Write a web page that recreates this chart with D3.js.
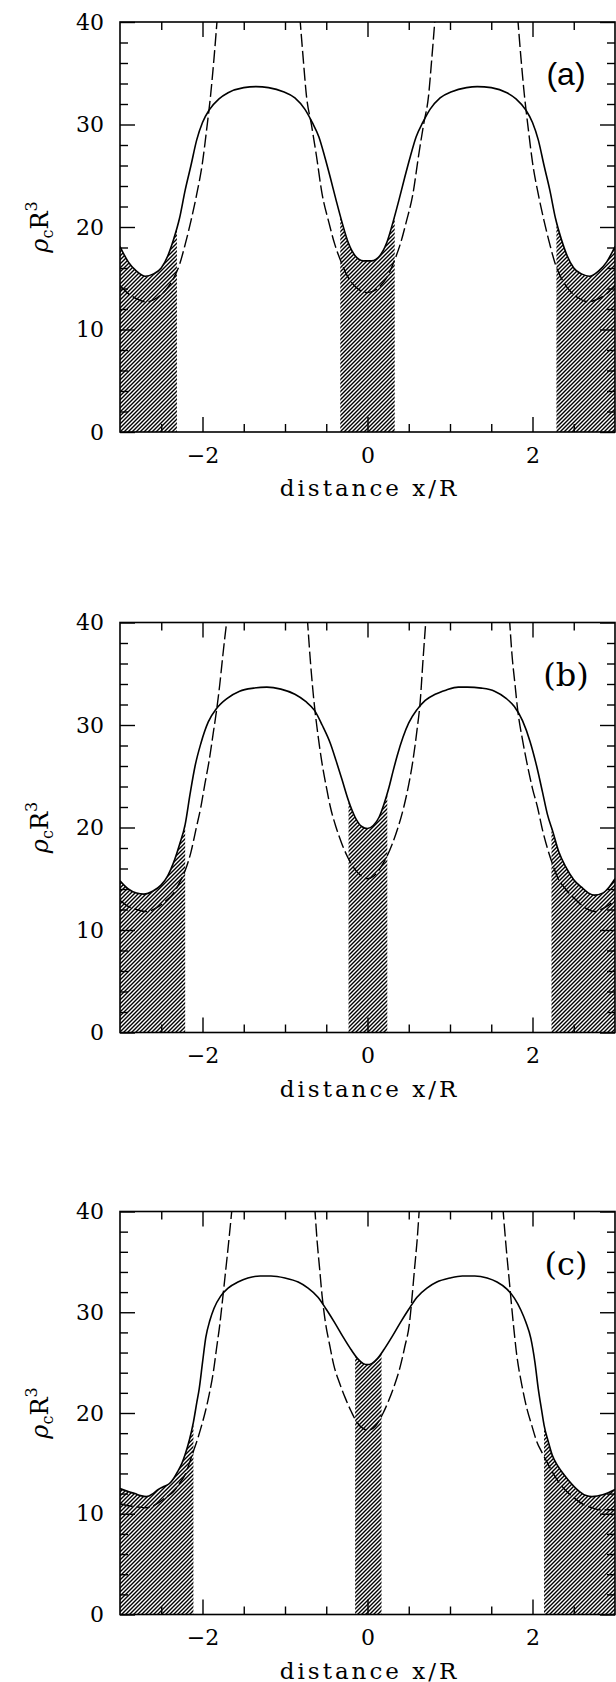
<!DOCTYPE html>
<html>
<head>
<meta charset="utf-8">
<script src="https://cdn.jsdelivr.net/npm/d3@7"></script>
<style>
  body { margin: 0; background: #fff; }
  svg { display: block; }
</style>
</head>
<body>
<div id="chart"></div>
<script>
// values (x = distance x/R, y = rho_c R^3)
const panelLabels = ["(a)", "(b)", "(c)"];
const xMajorTicks = [-2, 0, 2];
const yMajorTicks = [0, 10, 20, 30, 40];

const solidA = [[-3,18.1],[-2.9,16.6],[-2.8,15.7],[-2.69,15.2],[-2.6,15.4],[-2.5,16.0],[-2.42,17.2],[-2.35,18.8],[-2.28,20.8],[-2.21,23.6],[-2.14,26.0],[-2.07,28.5],[-2.0,30.2],[-1.92,31.4],[-1.8,32.5],[-1.69,33.1],[-1.5,33.6],[-1.35,33.7],[-1.2,33.6],[-1.02,33.2],[-0.88,32.6],[-0.76,31.5],[-0.67,30.2],[-0.59,28.8],[-0.52,26.9],[-0.45,24.8],[-0.38,22.6],[-0.31,20.5],[-0.23,18.4],[-0.15,17.2],[-0.05,16.7],[0.05,16.7],[0.15,17.2],[0.23,18.4],[0.31,20.5],[0.38,22.6],[0.45,24.8],[0.52,26.9],[0.59,28.8],[0.67,30.2],[0.76,31.5],[0.88,32.6],[1.02,33.2],[1.2,33.6],[1.33,33.7],[1.5,33.6],[1.69,33.1],[1.8,32.5],[1.92,31.4],[2.0,30.2],[2.07,28.5],[2.14,26.0],[2.21,23.6],[2.28,20.8],[2.35,18.8],[2.42,17.2],[2.5,16.0],[2.6,15.4],[2.69,15.2],[2.8,15.7],[2.9,16.6],[3,18.1]];
const dashA = [
  [[-3,14.3],[-2.9,13.5],[-2.8,13.0],[-2.68,12.7],[-2.55,13.1],[-2.45,13.8],[-2.35,15.0],[-2.28,16.3],[-2.21,18.3],[-2.14,20.6],[-2.07,23.2],[-2.0,26.3],[-1.95,29.5],[-1.9,33.0],[-1.86,36.5],[-1.82,40.5]],
  [[-0.82,40.5],[-0.78,36.5],[-0.74,32.8],[-0.68,30.0],[-0.62,27.0],[-0.55,23.2],[-0.47,20.5],[-0.4,18.4],[-0.33,16.8],[-0.25,15.3],[-0.15,14.2],[0,13.6],[0.15,14.2],[0.25,15.3],[0.33,16.8],[0.4,18.4],[0.47,20.5],[0.55,23.2],[0.62,27.0],[0.68,30.0],[0.74,32.8],[0.78,36.5],[0.82,40.5]],
  [[1.82,40.5],[1.86,36.5],[1.9,33.0],[1.95,29.5],[2.0,26.3],[2.07,23.2],[2.14,20.6],[2.21,18.3],[2.28,16.3],[2.35,15.0],[2.45,13.8],[2.55,13.1],[2.68,12.7],[2.8,13.0],[2.9,13.5],[3,14.3]]
];
const bandsA = [[-3,-2.31],[-0.33,0.33],[2.29,3]];

const solidB = [[-3,14.8],[-2.9,14.0],[-2.8,13.6],[-2.71,13.5],[-2.6,13.8],[-2.5,14.4],[-2.42,15.3],[-2.35,16.6],[-2.28,18.3],[-2.21,20.3],[-2.15,23.3],[-2.09,26.0],[-2.02,28.2],[-1.93,30.3],[-1.83,31.6],[-1.7,32.6],[-1.55,33.3],[-1.38,33.6],[-1.22,33.7],[-1.05,33.5],[-0.88,33.0],[-0.75,32.3],[-0.64,31.4],[-0.55,30.0],[-0.45,28.2],[-0.38,26.5],[-0.31,24.7],[-0.23,22.6],[-0.15,21.0],[-0.07,20.1],[0,19.9],[0.07,20.2],[0.14,21.0],[0.2,22.3],[0.26,23.9],[0.31,25.5],[0.36,27.0],[0.43,28.8],[0.5,30.2],[0.6,31.5],[0.7,32.4],[0.82,33.0],[0.95,33.4],[1.1,33.7],[1.21,33.7],[1.38,33.6],[1.54,33.3],[1.68,32.6],[1.78,31.8],[1.88,30.4],[1.97,28.4],[2.05,26.0],[2.12,23.5],[2.18,21.3],[2.25,19.5],[2.32,17.6],[2.4,16.2],[2.5,14.9],[2.59,14.2],[2.68,13.6],[2.75,13.4],[2.85,13.6],[2.93,14.2],[3,15.0]];
const dashB = [
  [[-3,12.9],[-2.9,12.3],[-2.8,12.0],[-2.68,11.8],[-2.55,12.2],[-2.45,12.8],[-2.35,13.6],[-2.28,14.6],[-2.21,15.8],[-2.14,17.6],[-2.08,19.8],[-2.02,22.0],[-1.97,24.3],[-1.92,26.5],[-1.87,29.2],[-1.83,31.4],[-1.79,34.0],[-1.76,36.3],[-1.73,38.5],[-1.7,40.5]],
  [[-0.73,40.5],[-0.69,36.0],[-0.65,32.4],[-0.6,29.0],[-0.55,26.2],[-0.5,24.0],[-0.45,22.0],[-0.38,20.0],[-0.31,18.4],[-0.24,17.1],[-0.17,16.1],[-0.08,15.3],[0,15.0],[0.08,15.3],[0.16,16.1],[0.23,17.1],[0.3,18.4],[0.37,20.0],[0.44,22.0],[0.5,24.2],[0.55,26.5],[0.6,29.5],[0.64,32.4],[0.67,36.0],[0.71,40.5]],
  [[1.72,40.5],[1.75,37.0],[1.79,33.8],[1.82,31.5],[1.88,28.5],[1.94,26.0],[2.0,23.8],[2.06,22.0],[2.12,19.8],[2.18,18.0],[2.24,16.5],[2.3,15.2],[2.4,14.0],[2.53,12.9],[2.65,12.1],[2.75,11.8],[2.88,12.2],[3,12.9]]
];
const bandsB = [[-3,-2.21],[-0.23,0.24],[2.23,3]];

const solidC = [[-3,12.5],[-2.9,12.2],[-2.82,12.0],[-2.75,11.8],[-2.68,11.7],[-2.6,12.0],[-2.54,12.4],[-2.47,12.7],[-2.4,13.0],[-2.35,13.5],[-2.3,14.2],[-2.25,15.0],[-2.21,15.9],[-2.16,17.3],[-2.11,19.1],[-2.07,21.0],[-2.04,22.4],[-2.0,25.0],[-1.96,27.5],[-1.91,29.2],[-1.86,30.4],[-1.78,31.6],[-1.69,32.4],[-1.57,33.0],[-1.45,33.4],[-1.3,33.6],[-1.17,33.6],[-1.0,33.4],[-0.84,33.0],[-0.72,32.4],[-0.6,31.5],[-0.5,30.3],[-0.4,29.0],[-0.3,27.6],[-0.2,26.3],[-0.12,25.4],[-0.05,24.9],[0,24.8],[0.05,24.9],[0.12,25.4],[0.2,26.3],[0.3,27.6],[0.4,29.0],[0.5,30.3],[0.6,31.5],[0.72,32.4],[0.84,33.0],[1.0,33.4],[1.15,33.6],[1.3,33.6],[1.45,33.4],[1.57,33.0],[1.69,32.3],[1.78,31.4],[1.86,30.2],[1.92,29.0],[1.98,27.4],[2.03,25.0],[2.07,22.4],[2.11,20.3],[2.14,18.8],[2.19,17.2],[2.24,15.8],[2.31,14.7],[2.38,13.9],[2.47,13.0],[2.57,12.2],[2.65,11.8],[2.72,11.7],[2.86,11.9],[3,12.4]];
const dashC = [
  [[-3,11.0],[-2.9,10.8],[-2.8,10.7],[-2.68,10.6],[-2.55,11.0],[-2.45,11.6],[-2.35,12.2],[-2.28,13.0],[-2.21,13.9],[-2.16,15.0],[-2.11,16.2],[-2.06,17.4],[-2.02,18.5],[-1.97,20.0],[-1.92,21.8],[-1.87,24.0],[-1.83,26.4],[-1.79,28.8],[-1.76,31.0],[-1.73,33.3],[-1.7,35.6],[-1.67,38.0],[-1.64,40.5]],
  [[-0.64,40.5],[-0.61,37.0],[-0.58,34.3],[-0.55,31.6],[-0.51,29.0],[-0.46,26.8],[-0.41,24.8],[-0.34,23.0],[-0.27,21.5],[-0.2,20.2],[-0.13,19.1],[-0.06,18.5],[0,18.3],[0.07,18.5],[0.13,19.1],[0.19,20.0],[0.25,21.1],[0.32,22.6],[0.39,24.4],[0.45,26.5],[0.51,29.0],[0.54,31.5],[0.57,34.3],[0.6,37.0],[0.63,40.5]],
  [[1.64,40.5],[1.68,36.5],[1.72,33.0],[1.76,29.5],[1.81,25.7],[1.87,22.8],[1.93,20.5],[1.99,18.8],[2.05,17.2],[2.12,16.0],[2.19,14.9],[2.28,13.6],[2.38,12.5],[2.5,11.6],[2.62,10.9],[2.72,10.6],[2.81,10.4],[2.9,10.4],[3,10.4]]
];
const bandsC = [[-3,-2.11],[-0.15,0.17],[2.14,3]];

const solids = [solidA, solidB, solidC];
const dashes = [dashA, dashB, dashC];
const bands = [bandsA, bandsB, bandsC];

// layout
const size = { width: 616, height: 1682, left: 120, right: 615 };
const panelTops = [22, 622.5, 1211.5];
const panelHeights = [410, 410, 403];
const serif = "'DejaVu Serif', serif";
const labelFonts = ["'Liberation Sans', Arial, sans-serif", serif, serif];

const svg = d3.select("#chart").append("svg")
  .attr("width", size.width)
  .attr("height", size.height);
svg.append("rect").attr("width", size.width).attr("height", size.height).attr("fill", "#fff");

const defs = svg.append("defs");
const hatch = defs.append("pattern")
  .attr("id", "hatch")
  .attr("patternUnits", "userSpaceOnUse")
  .attr("width", 4).attr("height", 4);
hatch.append("path")
  .attr("d", "M-1,1 l2,-2 M0,4 l4,-4 M3,5 l2,-2")
  .attr("stroke", "#000")
  .attr("stroke-width", 1.4);

function styleAxis(g) {
  g.select(".domain").remove();
  g.selectAll(".tick line").attr("stroke", "#000").attr("stroke-width", 1.4);
  g.attr("font-family", serif).attr("font-size", 22);
  g.selectAll(".tick text").attr("fill", "#000");
}

function drawPanel(i) {
  const top = panelTops[i];
  const h = panelHeights[i];
  const bottom = top + h;
  const x = d3.scaleLinear().domain([-3, 3]).range([size.left, size.right]);
  const y = d3.scaleLinear().domain([0, 40]).range([bottom, top]);
  const g = svg.append("g");

  defs.append("clipPath").attr("id", "plot" + i)
    .append("rect")
    .attr("x", size.left).attr("y", top)
    .attr("width", size.right - size.left).attr("height", h);

  defs.append("clipPath").attr("id", "band" + i)
    .selectAll("rect")
    .data(bands[i])
    .join("rect")
    .attr("x", d => x(d[0]))
    .attr("width", d => x(d[1]) - x(d[0]))
    .attr("y", top)
    .attr("height", h);

  const area = d3.area()
    .x(d => x(d[0])).y0(y(0)).y1(d => y(d[1]))
    .curve(d3.curveMonotoneX);
  const line = d3.line()
    .x(d => x(d[0])).y(d => y(d[1]))
    .curve(d3.curveMonotoneX);

  // shaded bands under the solid curve
  g.append("path")
    .datum(solids[i])
    .attr("d", area)
    .attr("fill", "url(#hatch)")
    .attr("clip-path", `url(#band${i})`);

  g.append("g")
    .attr("clip-path", `url(#plot${i})`)
    .selectAll("path")
    .data(dashes[i])
    .join("path")
    .attr("d", line)
    .attr("fill", "none")
    .attr("stroke", "#000")
    .attr("stroke-width", 1.4)
    .attr("stroke-dasharray", "13,4");

  g.append("path")
    .datum(solids[i])
    .attr("d", line)
    .attr("fill", "none")
    .attr("stroke", "#000")
    .attr("stroke-width", 1.6)
    .attr("clip-path", `url(#plot${i})`);

  const xMinor = d3.range(-2.5, 3, 0.5).filter(v => !xMajorTicks.includes(v));
  const yMinor = d3.range(2, 40, 2).filter(v => v % 10 !== 0);
  const fmt = d3.format("d");

  // bottom
  g.append("g").attr("transform", `translate(0,${bottom})`)
    .call(d3.axisBottom(x).tickValues(xMajorTicks).tickSize(-15).tickPadding(15).tickFormat(fmt))
    .call(styleAxis);
  g.append("g").attr("transform", `translate(0,${bottom})`)
    .call(d3.axisBottom(x).tickValues(xMinor).tickSize(-8).tickFormat(""))
    .call(styleAxis);
  // top
  g.append("g").attr("transform", `translate(0,${top})`)
    .call(d3.axisTop(x).tickValues(xMajorTicks).tickSize(-15).tickFormat(""))
    .call(styleAxis);
  g.append("g").attr("transform", `translate(0,${top})`)
    .call(d3.axisTop(x).tickValues(xMinor).tickSize(-8).tickFormat(""))
    .call(styleAxis);
  // left
  g.append("g").attr("transform", `translate(${size.left},0)`)
    .call(d3.axisLeft(y).tickValues(yMajorTicks).tickSize(-15).tickPadding(16).tickFormat(fmt))
    .call(styleAxis);
  g.append("g").attr("transform", `translate(${size.left},0)`)
    .call(d3.axisLeft(y).tickValues(yMinor).tickSize(-8).tickFormat(""))
    .call(styleAxis);
  // right
  g.append("g").attr("transform", `translate(${size.right},0)`)
    .call(d3.axisRight(y).tickValues(yMajorTicks).tickSize(-15).tickFormat(""))
    .call(styleAxis);
  g.append("g").attr("transform", `translate(${size.right},0)`)
    .call(d3.axisRight(y).tickValues(yMinor).tickSize(-8).tickFormat(""))
    .call(styleAxis);

  g.append("rect")
    .attr("x", size.left).attr("y", top)
    .attr("width", size.right - size.left).attr("height", h)
    .attr("fill", "none").attr("stroke", "#000").attr("stroke-width", 1.6);

  g.append("text")
    .attr("x", 566).attr("y", top + 63)
    .attr("text-anchor", "middle")
    .attr("font-family", labelFonts[i])
    .attr("font-size", 32)
    .text(panelLabels[i]);

  g.append("text")
    .attr("x", (size.left + size.right) / 2 + 2)
    .attr("y", bottom + 64)
    .attr("text-anchor", "middle")
    .attr("font-family", serif)
    .attr("font-size", 23)
    .attr("letter-spacing", 3)
    .text("distance x/R");

  const yl = g.append("text")
    .attr("transform", `translate(48,${(top + bottom) / 2}) rotate(-90)`)
    .attr("text-anchor", "middle")
    .attr("font-family", serif)
    .attr("font-size", 24);
  yl.append("tspan").attr("font-style", "italic").text("ρ");
  yl.append("tspan").attr("font-size", 16).attr("dy", 5).text("c");
  yl.append("tspan").attr("dy", -5).text("R");
  yl.append("tspan").attr("font-size", 16).attr("dy", -11).text("3");
}

[0, 1, 2].forEach(drawPanel);
</script>
</body>
</html>
